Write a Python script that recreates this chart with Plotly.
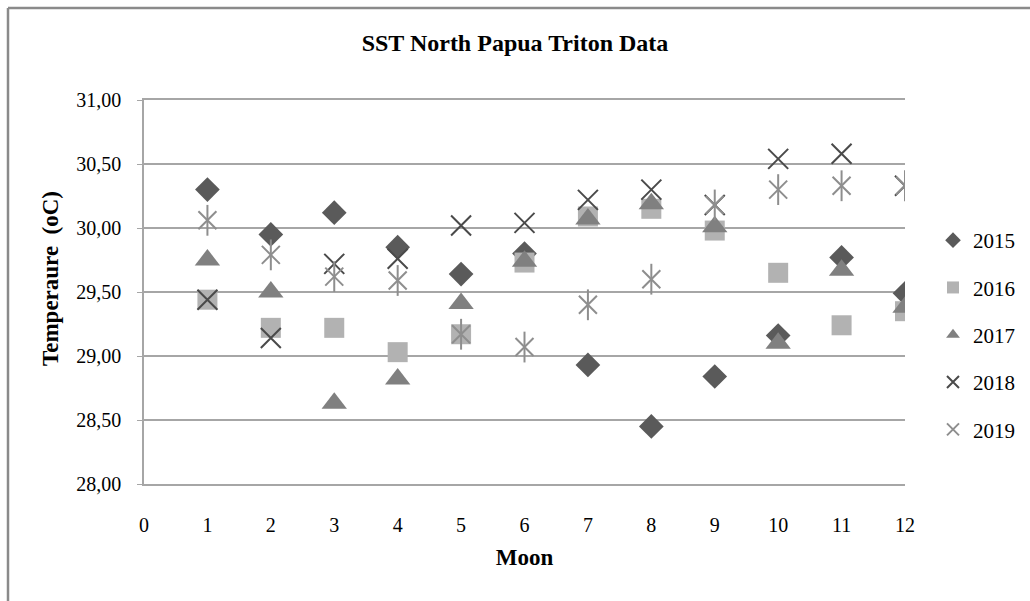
import plotly.graph_objects as go

months = [1, 2, 3, 4, 5, 6, 7, 8, 9, 10, 11, 12]
sst_2015 = [30.30, 29.95, 30.12, 29.85, 29.64, 29.80, 28.93, 28.45, 28.84, 29.16, 29.77, 29.49]
sst_2016 = [29.44, 29.22, 29.22, 29.03, 29.17, 29.73, 30.09, 30.15, 29.98, 29.65, 29.24, 29.35]
sst_2017 = [29.75, 29.50, 28.63, 28.82, 29.41, 29.74, 30.07, 30.19, 30.01, 29.10, 29.67, 29.38]
sst_2018 = [29.44, 29.14, 29.72, 29.76, 30.02, 30.04, 30.22, 30.30, 30.18, 30.54, 30.58, 30.33]
sst_2019 = [30.06, 29.79, 29.62, 29.59, 29.17, 29.07, 29.40, 29.60, 30.18, 30.30, 30.33, 30.33]

years = ["2015", "2016", "2017", "2018", "2019"]
x_ticks = [0, 1, 2, 3, 4, 5, 6, 7, 8, 9, 10, 11, 12]
y_ticks = [28.0, 28.5, 29.0, 29.5, 30.0, 30.5, 31.0]
y_ticktext = ["28,00", "28,50", "29,00", "29,50", "30,00", "30,50", "31,00"]

series = [sst_2015, sst_2016, sst_2017, sst_2018, sst_2019]
styles = [
    dict(symbol="diamond", size=19, color="#5a5a5a", line=dict(width=0)),
    dict(symbol="square", size=20, color="#b2b2b2", line=dict(width=0)),
    dict(symbol="triangle-up", size=22, color="#808080", line=dict(width=0)),
    dict(symbol="x-thin-open", size=20, color="#4a4a4a", line=dict(width=2, color="#4a4a4a")),
    dict(symbol="x-thin-open", size=18, color="#8e8e8e", line=dict(width=2, color="#8e8e8e")),
]

fig = go.Figure()
for name, vals, st in zip(years, series, styles):
    fig.add_trace(go.Scatter(x=months, y=vals, mode="markers", name=name,
                             legendgroup=name, marker=st))
# vertical stroke completing the 2019 star marker
fig.add_trace(go.Scatter(x=months, y=sst_2019, mode="markers", name="2019",
                         legendgroup="2019", showlegend=False, hoverinfo="skip",
                         marker=dict(symbol="line-ns-open", size=22, color="#8e8e8e",
                                     line=dict(width=2, color="#8e8e8e"))))

font_family = "Liberation Serif"
fig.update_layout(
    width=1030, height=601,
    margin=dict(l=144, r=125, t=100, b=117, autoexpand=False),
    paper_bgcolor="white", plot_bgcolor="white",
    font=dict(family=font_family, size=20, color="black"),
    title=dict(text="<b>SST North Papua Triton Data</b>", x=515 / 1030, xanchor="center",
               y=1 - 43 / 601, yanchor="middle", font=dict(size=24, family=font_family)),
    legend=dict(x=(933 - 144) / 761, xanchor="left", y=(484 - 220) / 384, yanchor="top",
                font=dict(size=21, family=font_family), tracegroupgap=17,
                itemsizing="constant", bgcolor="rgba(0,0,0,0)"),
    showlegend=True,
)
fig.update_xaxes(range=[0, 12], tickvals=x_ticks, showgrid=False, zeroline=False,
                 showline=True, mirror=True, linecolor="#a6a6a6", linewidth=1.5,
                 ticks="", ticklabelstandoff=22,
                 title=dict(text="<b>Moon</b>", standoff=14, font=dict(size=23)))
fig.update_yaxes(range=[28, 31], tickvals=y_ticks, ticktext=y_ticktext,
                 showgrid=True, gridcolor="#a6a6a6", gridwidth=1.5, zeroline=False,
                 showline=True, linecolor="#a6a6a6", linewidth=1.5,
                 ticks="outside", ticklen=5, tickcolor="#a6a6a6", ticklabelstandoff=12)

fig.add_annotation(text="<b>Temperaure  (oC)</b>", textangle=-90, showarrow=False,
                   xref="paper", yref="paper", x=(50 - 144) / 761, y=(484 - 279) / 384,
                   xanchor="center", yanchor="middle", font=dict(size=23, family=font_family))

# outer chart border (left and top edges visible)
fig.add_shape(type="line", xref="paper", yref="paper",
              x0=(8 - 144) / 761, x1=(1040 - 144) / 761,
              y0=(484 - 8) / 384, y1=(484 - 8) / 384,
              line=dict(color="#8a8a8a", width=2.5))
fig.add_shape(type="line", xref="paper", yref="paper",
              x0=(8 - 144) / 761, x1=(8 - 144) / 761,
              y0=(484 - 8) / 384, y1=(484 - 610) / 384,
              line=dict(color="#8a8a8a", width=2.5))

fig.write_html("out.html", config={"displayModeBar": False},
               post_script="document.body.style.margin='0';")
